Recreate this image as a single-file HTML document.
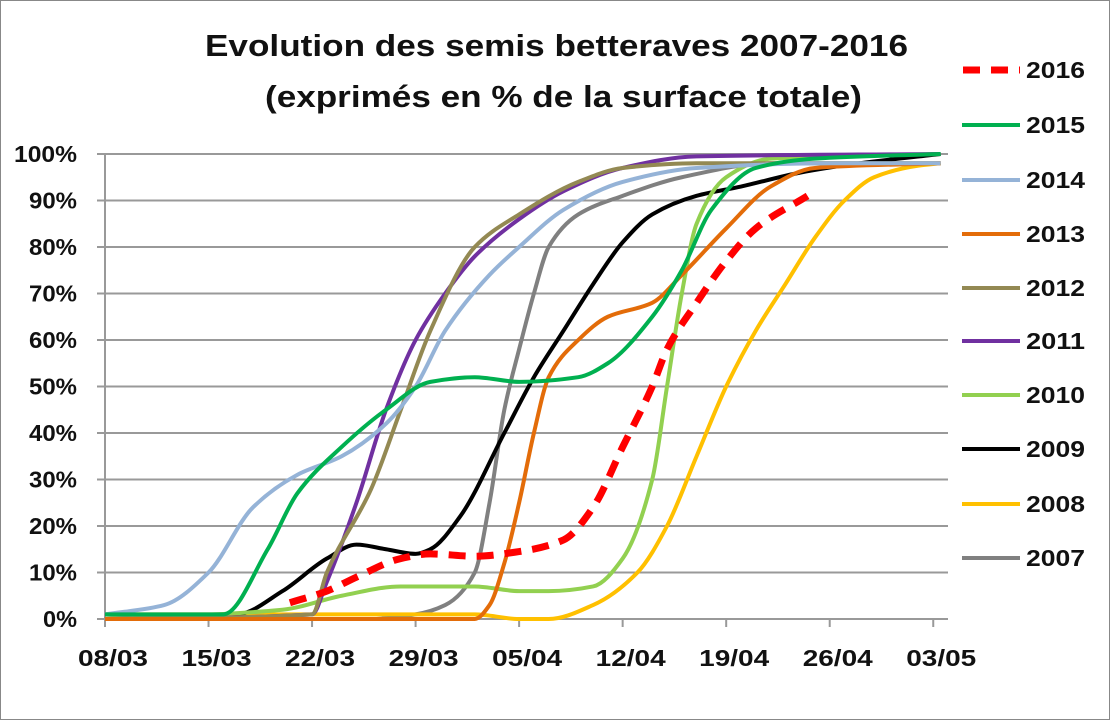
<!DOCTYPE html>
<html><head><meta charset="utf-8"><style>
html,body{margin:0;padding:0;background:#fff}
svg{display:block;font-family:"Liberation Sans",sans-serif;font-weight:bold}
</style></head><body>
<svg id="s" width="1110" height="720" xmlns="http://www.w3.org/2000/svg">
<rect x="0.5" y="0.5" width="1109" height="719" fill="#fff" stroke="#888"/>
<text x="205" y="56" font-size="31" textLength="703" lengthAdjust="spacingAndGlyphs" fill="#111">Evolution des semis betteraves 2007-2016</text>
<text x="265" y="107" font-size="31" textLength="597" lengthAdjust="spacingAndGlyphs" fill="#111">(exprimés en % de la surface totale)</text>
<g id="grid" stroke="#999" stroke-width="2"></g>
<g id="lbl" font-size="23" fill="#111"></g>
<g id="series" fill="none" stroke-linecap="butt" stroke-linejoin="round"></g>
<g id="leg" font-size="23" fill="#111"></g>
</svg>
<script>
var NS="http://www.w3.org/2000/svg";
function X(d){return 105+d*14.79}
function Y(p){return 619-p*4.65}
function el(t,a,par,txt){var e=document.createElementNS(NS,t);for(var k in a)e.setAttribute(k,a[k]);if(txt!=null)e.textContent=txt;document.getElementById(par).appendChild(e);return e}
for(var i=0;i<=10;i++){var y=Y(i*10);el('line',{x1:97,x2:948,y1:y,y2:y},'grid');var t=(i*10)+'%';el('text',{x:77,y:y+8,'text-anchor':'end',textLength:(t.length==4?63:(t.length==3?48:34)),lengthAdjust:'spacingAndGlyphs'},'lbl',t)}
el('line',{x1:105,x2:105,y1:154,y2:627},'grid');
var dl=['08/03','15/03','22/03','29/03','05/04','12/04','19/04','26/04','03/05'];
for(var i=0;i<9;i++){var x=X(i*7);el('line',{x1:x,x2:x,y1:619,y2:627},'grid');el('text',{x:x-27,y:666,textLength:70,lengthAdjust:'spacingAndGlyphs'},'lbl',dl[i])}
function path(p){var n=p.length,xs=p.map(a=>a[0]),ys=p.map(a=>a[1]);var dx=[],m=[],t=[];
for(var i=0;i<n-1;i++){dx[i]=xs[i+1]-xs[i];m[i]=(ys[i+1]-ys[i])/dx[i]}
t[0]=m[0];t[n-1]=m[n-2];
for(var i=1;i<n-1;i++){if(m[i-1]*m[i]<=0)t[i]=0;else{var w1=2*dx[i]+dx[i-1],w2=dx[i]+2*dx[i-1];t[i]=(w1+w2)/(w1/m[i-1]+w2/m[i])}}
var d='M'+X(xs[0])+','+Y(ys[0]);
for(var i=0;i<n-1;i++){var h=dx[i];d+=' C'+X(xs[i]+h/3)+','+Y(ys[i]+t[i]*h/3)+' '+X(xs[i+1]-h/3)+','+Y(ys[i+1]-t[i+1]*h/3)+' '+X(xs[i+1])+','+Y(ys[i+1])}
return d}
var S=[
['2007','#808080',[[12,0],[18,0],[21,1],[23,3],[25,10],[26,25],[27,45],[28,58],[29,70],[30,80],[32,87],[35,91],[39,95],[45,98],[56.5,98]]],
['2008','#FFC000',[[0,1],[25,1],[28,0],[30,0],[33,3],[36,10],[38,20],[40,35],[42,50],[44,62],[46,72],[48,82],[50,90],[52,95],[55,97.5],[56.5,98]]],
['2009','#000000',[[0,0],[9,1],[12,6],[15,13],[17,16],[19,15],[21,14],[22,15],[24,22],[27,40],[29,52],[31,62],[33,72],[35,81],[37,87],[40,91],[43,93],[47,96],[51,98],[56.5,100]]],
['2010','#92D050',[[0,0],[12,2],[16,5],[20,7],[22,7],[25,7],[28,6],[30,6],[33,7],[35,13],[37,30],[38,50],[39,70],[40,85],[42,95],[45,99],[56.5,100]]],
['2011','#7030A0',[[0,0],[14,1],[15,8],[17,25],[19,45],[21,60],[23,70],[25,78],[28,86],[31,92],[35,97],[40,99.5],[56.5,100]]],
['2012','#938953',[[0,0],[14,1],[15,10],[18,28],[20,45],[22,62],[25,80],[28,87],[32,94],[35,97],[40,98],[56.5,98]]],
['2013','#E36C09',[[0,0],[25,0],[26,3],[27,12],[28,25],[29,40],[30,52],[32,60],[34,65],[37,68],[39,74],[42,84],[45,93],[48,97],[56.5,98]]],
['2014','#95B3D7',[[0,1],[4,3],[7,10],[10,24],[13,31],[16,35],[19,42],[21,50],[23,62],[26,74],[28,80],[31,88],[35,94],[40,97],[49,98],[56.5,98]]],
['2015','#00B050',[[0,1],[8,1],[11,15],[13,27],[16,37],[19,45],[22,51],[25,52],[28,51],[32,52],[34,55],[37,65],[39,75],[41,88],[44,97],[48,99],[56.5,100]]],
['2016','#FF0000',[[12.5,3.5],[15,6],[17,9],[20,13],[22,14],[25,13.5],[28,14.5],[31,17],[33,24],[35,37],[37,50],[38,58],[40,68],[42,77],[44,84],[47.5,91]]]
];
S.forEach(function(s){var a={d:path(s[2]),stroke:s[1],'stroke-width':4};if(s[0]=='2016'){a['stroke-width']=7;a['stroke-dasharray']='17 11'}el('path',a,'series')});
var ly=[70,125,180,234,288,341,395,449,504,558];
for(var i=0;i<10;i++){var s=S[9-i];var a={x1:962,x2:1020,y1:ly[i],y2:ly[i],stroke:s[1],'stroke-width':4};if(s[0]=='2016'){a['stroke-width']=7;a['stroke-dasharray']='17 11';a.x1=963}
el('line',a,'leg');el('text',{x:1026,y:ly[i]+8,textLength:59,lengthAdjust:'spacingAndGlyphs'},'leg',s[0])}
</script>
</body></html>
